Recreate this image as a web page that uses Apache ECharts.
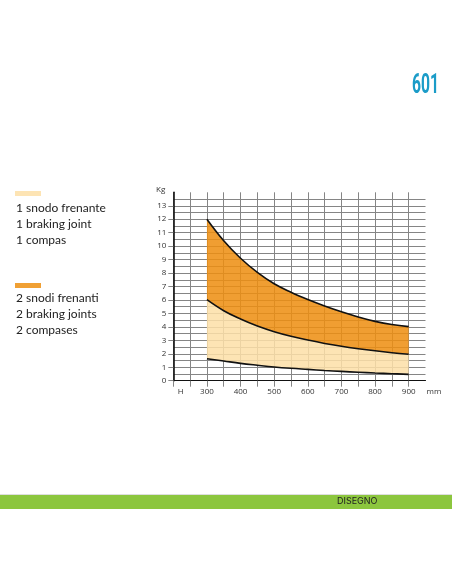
<!DOCTYPE html>
<html>
<head>
<meta charset="utf-8">
<script src="https://cdn.jsdelivr.net/npm/echarts@6/dist/echarts.min.js"></script>
<style>
html,body{margin:0;padding:0;background:#fff;}
#chart{width:452px;height:584px;}
</style>
</head>
<body>
<div id="chart"></div>
<script>
// ---- data ----
const xMm = [300, 350, 400, 450, 500, 550, 600, 650, 700, 750, 800, 850, 900];
const lowerCurve = [1.63, 1.46, 1.29, 1.15, 1.02, 0.92, 0.84, 0.76, 0.69, 0.63, 0.57, 0.52, 0.47];
const oneJointMax = [6.02, 5.2, 4.58, 4.06, 3.64, 3.3, 3.02, 2.77, 2.56, 2.38, 2.22, 2.08, 1.96];
const twoJointsMax = [12.0, 10.4, 9.1, 8.05, 7.2, 6.57, 6.03, 5.55, 5.12, 4.74, 4.41, 4.17, 4.02];
const xTickValues = [200, 300, 400, 500, 600, 700, 800, 900];
const xTickLabels = ['H', '300', '400', '500', '600', '700', '800', '900'];
const yTickValues = [0, 1, 2, 3, 4, 5, 6, 7, 8, 9, 10, 11, 12, 13];
const legendOne = ['1 snodo frenante', '1 braking joint', '1 compas'];
const legendTwo = ['2 snodi frenanti', '2 braking joints', '2 compases'];
const productCode = '601';
const footerLabel = 'DISEGNO';

// ---- colours ----
const cream = '#fde0a8';
const orange = '#ee8e10';
const creamSwatch = '#fde4b4';
const orangeSwatch = '#f0a034';
const gridGray = '#858585';

const chart = echarts.init(document.getElementById('chart'), null, {renderer: 'canvas'});

// grid columns every 50 mm from 200 to 950 (category slots, layout only)
const cols = [];
for (let v = 200; v <= 950; v += 50) cols.push(v);
const colLabels = cols.map(String);

const onCols = (arr) => cols.map((c) => {
  const i = xMm.indexOf(c);
  return i >= 0 ? arr[i] : null;
});
const bandOneVals = xMm.map((x, i) => +(oneJointMax[i] - lowerCurve[i]).toFixed(3));
const bandTwoVals = xMm.map((x, i) => +(twoJointsMax[i] - oneJointMax[i]).toFixed(3));

const legendText = [];
legendOne.forEach((t, i) => legendText.push({
  type: 'text', left: 16, top: 202 + i * 16,
  style: {text: t, fontFamily: 'Lato, "Open Sans", sans-serif', fontSize: 12, fill: '#222'}
}));
legendTwo.forEach((t, i) => legendText.push({
  type: 'text', left: 16, top: 292 + i * 16,
  style: {text: t, fontFamily: 'Lato, "Open Sans", sans-serif', fontSize: 12, fill: '#222'}
}));

const lastCol = cols.length - 1;

const option = {
  animation: false,
  backgroundColor: '#ffffff',
  grid: {left: 173.3, right: 26.5, top: 192.3, bottom: 203.3, containLabel: false},
  xAxis: {
    type: 'category', data: colLabels, boundaryGap: false,
    name: 'mm', nameLocation: 'end', nameGap: 1,
    nameTextStyle: {fontSize: 8, color: '#333', fontFamily: '"Open Sans", sans-serif',
      align: 'left', verticalAlign: 'top', padding: [7, 0, 0, 0]},
    axisLine: {show: true, lineStyle: {color: '#111', width: 1}},
    axisTick: {show: true, length: 6, interval: (i) => i < lastCol, lineStyle: {color: gridGray}},
    axisLabel: {
      interval: 0, margin: 7, fontSize: 8, color: '#333',
      fontFamily: '"Open Sans", sans-serif',
      formatter: (v) => {
        const i = xTickValues.indexOf(+v);
        if (i < 0) return '';
        return i === 0 ? '{h|' + xTickLabels[i] + '}' : xTickLabels[i];
      },
      rich: {h: {fontSize: 8, color: '#333', fontFamily: '"Open Sans", sans-serif', padding: [0, 0, 0, 15]}}
    },
    splitLine: {show: true, interval: (i) => i < lastCol, lineStyle: {color: gridGray, width: 1}}
  },
  yAxis: [{
    type: 'value', min: 0, max: 14, interval: 0.5,
    name: 'Kg', nameLocation: 'end', nameGap: -1,
    nameTextStyle: {fontSize: 8, color: '#333', fontFamily: '"Open Sans", sans-serif',
      align: 'right', padding: [0, 8, 0, 0]},
    axisLine: {show: true, lineStyle: {color: '#111', width: 1.6}},
    axisTick: {show: false},
    axisLabel: {show: false},
    splitLine: {show: true, showMaxLine: false, lineStyle: {color: gridGray, width: 1}}
  }, {
    type: 'value', min: 0, max: 14, interval: 0.5, position: 'left',
    axisLine: {show: false},
    axisTick: {show: true, length: 5, customValues: yTickValues, lineStyle: {color: gridGray}},
    axisLabel: {customValues: yTickValues, margin: 7, fontSize: 8, color: '#333',
      fontFamily: '"Open Sans", sans-serif'},
    splitLine: {show: false}
  }],
  series: [
    {
      type: 'line', yAxisIndex: 0, stack: 'w', data: onCols(lowerCurve), smooth: 0.4,
      symbol: 'none', lineStyle: {color: '#111', width: 1.6}, z: 5
    },
    {
      type: 'line', yAxisIndex: 0, stack: 'w', data: onCols(bandOneVals), smooth: 0.4,
      symbol: 'none', lineStyle: {color: '#111', width: 1.6},
      areaStyle: {color: cream, opacity: 0.86}, z: 4
    },
    {
      type: 'line', yAxisIndex: 0, stack: 'w', data: onCols(bandTwoVals), smooth: 0.4,
      symbol: 'none', lineStyle: {color: '#111', width: 1.6},
      areaStyle: {color: orange, opacity: 0.86}, z: 3
    }
  ],
  graphic: [
    {type: 'text', left: 412, top: 72, scaleX: 0.56, originX: 412,
      style: {text: productCode, fontFamily: 'Roboto, sans-serif', fontWeight: 'bold', fontSize: 28, fill: '#1b9cc8'}},
    {type: 'rect', left: 15, top: 191, shape: {width: 26, height: 5}, style: {fill: creamSwatch}},
    {type: 'rect', left: 15, top: 283, shape: {width: 26, height: 5}, style: {fill: orangeSwatch}},
    ...legendText,
    {type: 'rect', left: 0, top: 494, shape: {width: 452, height: 1}, style: {fill: '#dedede'}},
    {type: 'rect', left: 0, top: 495, shape: {width: 452, height: 14}, style: {fill: '#8cc63e'}},
    {type: 'text', left: 337, top: 497,
      style: {text: footerLabel, fontFamily: 'Inter, sans-serif', fontSize: 9, fill: '#222'}}
  ]
};
chart.setOption(option);
</script>
</body>
</html>
